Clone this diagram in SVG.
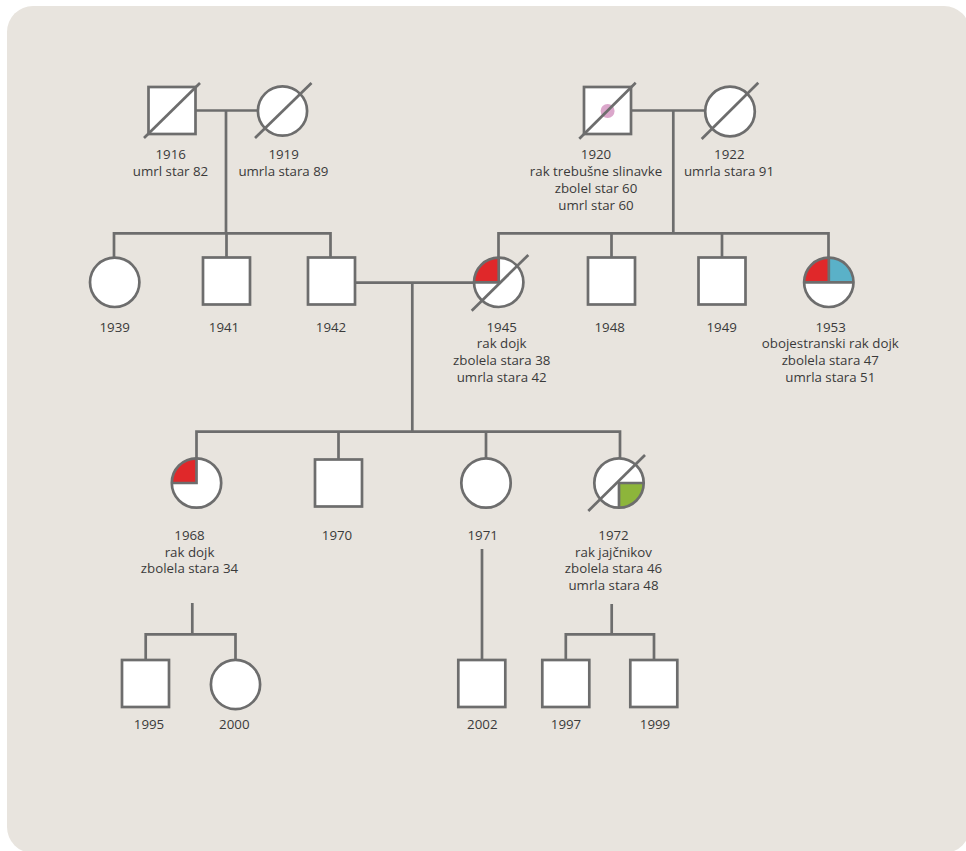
<svg xmlns="http://www.w3.org/2000/svg" width="966" height="851" viewBox="0 0 966 851">
<style>
.ln{stroke:#6d6d6d;stroke-width:2.7;fill:none;stroke-linecap:butt}
.nd{fill:#ffffff;stroke:#6d6d6d;stroke-width:2.7}
.dg{stroke:#6d6d6d;stroke-width:2.7;fill:none}
.q{stroke:#6d6d6d;stroke-width:2.7;fill:none}
.red{fill:#e0282a}
.blue{fill:#5ab1c8}
.green{fill:#8db53b}
text{font-family:"Open Sans","Noto Sans","Liberation Sans",sans-serif;font-size:13.3px;fill:#3a3a3a;text-anchor:middle}
</style>
<rect x="7" y="6" width="963" height="847" rx="26" fill="#e8e4de"/>

<g id="connectors">
<path class="ln" d="M196 110.5H258M226 110.5V233.3"/>
<path class="ln" d="M631 110.5H705M673.3 110.5V233.3"/>
<path class="ln" d="M114 258V233.3H330.5V258M226.5 233.3V258"/>
<path class="ln" d="M498.5 258V233.3H828.5V258M611.5 233.3V258M722 233.3V258"/>
<path class="ln" d="M355 282.7H474M412.3 282.7V431.7"/>
<path class="ln" d="M196.5 458.5V431.7H620V458.5M338.5 431.7V459.5M486 431.7V458.5"/>
<path class="ln" d="M192.3 603V634.3M145.7 660V634.3H235.5V660"/>
<path class="ln" d="M482 549V660"/>
<path class="ln" d="M611.7 604V634.3M565.8 660V634.3H654V660"/>
</g>

<g id="n1916">
<rect class="nd" x="148.5" y="87" width="47" height="47"/>
<line class="dg" x1="144" y1="138" x2="200" y2="83"/>
<text x="170.7" y="159">1916</text>
<text x="170.5" y="176">umrl star 82</text>
</g>
<g id="n1919">
<circle class="nd" cx="282.5" cy="111" r="24.6"/>
<line class="dg" x1="255" y1="138" x2="311.5" y2="83"/>
<text x="283.6" y="159">1919</text>
<text x="283.4" y="176">umrla stara 89</text>
</g>
<g id="n1920">
<rect class="nd" x="584" y="87" width="47" height="47"/>
<circle cx="607.6" cy="111" r="7" fill="#dba7cb"/>
<line class="dg" x1="579.3" y1="138.7" x2="635.7" y2="82.7"/>
<text x="596" y="159.3">1920</text>
<text x="596" y="176">rak trebušne slinavke</text>
<text x="596" y="192.7">zbolel star 60</text>
<text x="596" y="209.5">umrl star 60</text>
</g>
<g id="n1922">
<circle class="nd" cx="730" cy="111.5" r="24.8"/>
<line class="dg" x1="701.7" y1="139" x2="758.3" y2="82.7"/>
<text x="729.3" y="159.3">1922</text>
<text x="729" y="176">umrla stara 91</text>
</g>

<g id="n1939">
<circle class="nd" cx="114.7" cy="282.3" r="24.7"/>
<text x="114.7" y="331.7">1939</text>
</g>
<g id="n1941">
<rect class="nd" x="203" y="257.5" width="47" height="47"/>
<text x="224" y="331.7">1941</text>
</g>
<g id="n1942">
<rect class="nd" x="308" y="257.5" width="47" height="47"/>
<text x="331" y="331.7">1942</text>
</g>
<g id="n1945">
<circle cx="498.7" cy="282.3" r="24.7" fill="#ffffff"/>
<path class="red" d="M498.7 282.3H474A24.7 24.7 0 0 1 498.7 257.6Z"/>
<path class="q" d="M474 282.3H498.7V257.6"/>
<circle class="nd" cx="498.7" cy="282.3" r="24.7" style="fill:none"/>
<line class="dg" x1="471.7" y1="310.7" x2="528.3" y2="255"/>
<text x="501.7" y="331.7">1945</text>
<text x="501.7" y="348.4">rak dojk</text>
<text x="501.7" y="365">zbolela stara 38</text>
<text x="501.7" y="381.7">umrla stara 42</text>
</g>
<g id="n1948">
<rect class="nd" x="588" y="257.5" width="47" height="47"/>
<text x="609.7" y="331.7">1948</text>
</g>
<g id="n1949">
<rect class="nd" x="698.5" y="257.5" width="47" height="47"/>
<text x="721.7" y="331.7">1949</text>
</g>
<g id="n1953">
<circle cx="828.8" cy="282.3" r="24.7" fill="#ffffff"/>
<path class="red" d="M828.8 282.3H804.1A24.7 24.7 0 0 1 828.8 257.6Z"/>
<path class="blue" d="M828.8 282.3V257.6A24.7 24.7 0 0 1 853.5 282.3Z"/>
<path class="q" d="M804.1 282.3H853.5M828.8 282.3V257.6"/>
<circle class="nd" cx="828.8" cy="282.3" r="24.7" style="fill:none"/>
<text x="830.6" y="331.7">1953</text>
<text x="830.3" y="348.4">obojestranski rak dojk</text>
<text x="830.3" y="365">zbolela stara 47</text>
<text x="830.3" y="381.7">umrla stara 51</text>
</g>

<g id="n1968">
<circle cx="196.5" cy="483" r="24.7" fill="#ffffff"/>
<path class="red" d="M196.5 483H171.8A24.7 24.7 0 0 1 196.5 458.3Z"/>
<path class="q" d="M171.8 483H196.5V458.3"/>
<circle class="nd" cx="196.5" cy="483" r="24.7" style="fill:none"/>
<text x="189.5" y="540">1968</text>
<text x="189.5" y="556.7">rak dojk</text>
<text x="189.5" y="573.4">zbolela stara 34</text>
</g>
<g id="n1970">
<rect class="nd" x="315" y="459.5" width="47" height="47"/>
<text x="337" y="540">1970</text>
</g>
<g id="n1971">
<circle class="nd" cx="486" cy="483" r="24.7"/>
<text x="482.7" y="540">1971</text>
</g>
<g id="n1972">
<circle cx="619" cy="483" r="24.7" fill="#ffffff"/>
<path class="green" d="M619 483H643.7A24.7 24.7 0 0 1 619 507.7Z"/>
<path class="q" d="M643.7 483H619V507.7"/>
<circle class="nd" cx="619" cy="483" r="24.7" style="fill:none"/>
<line class="dg" x1="588.3" y1="511" x2="645" y2="455"/>
<text x="613.5" y="540">1972</text>
<text x="613.5" y="556.7">rak jajčnikov</text>
<text x="613.5" y="573.4">zbolela stara 46</text>
<text x="613.5" y="590">umrla stara 48</text>
</g>

<g id="n1995">
<rect class="nd" x="122" y="660" width="47" height="47"/>
<text x="149" y="729.3">1995</text>
</g>
<g id="n2000">
<circle class="nd" cx="235.5" cy="684.5" r="24.6"/>
<text x="234.3" y="729.3">2000</text>
</g>
<g id="n2002">
<rect class="nd" x="458.3" y="660" width="47" height="47"/>
<text x="482.3" y="729.3">2002</text>
</g>
<g id="n1997">
<rect class="nd" x="542.3" y="660" width="47" height="47"/>
<text x="566" y="729.3">1997</text>
</g>
<g id="n1999">
<rect class="nd" x="630.3" y="660" width="47" height="47"/>
<text x="655" y="729.3">1999</text>
</g>
</svg>
